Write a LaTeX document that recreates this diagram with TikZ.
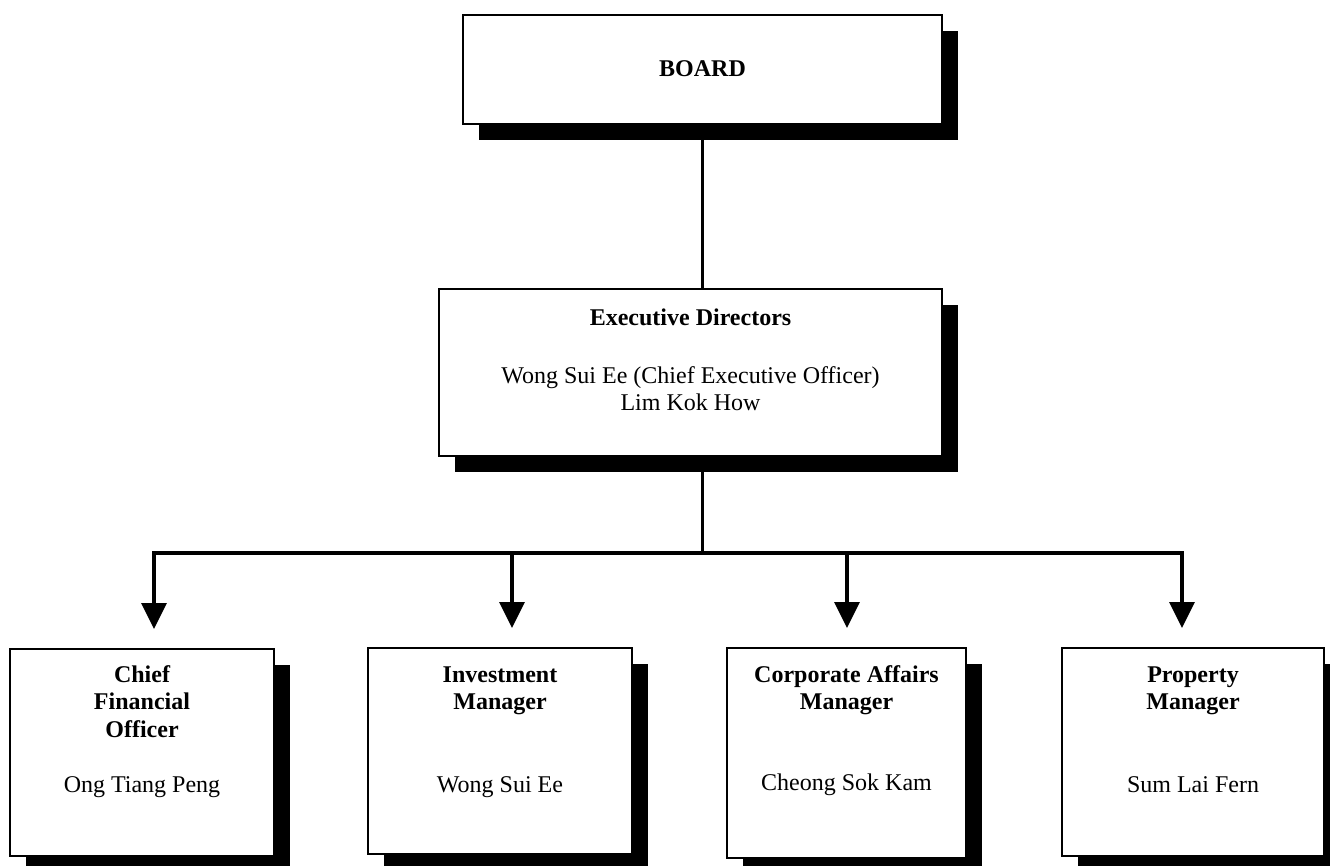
\documentclass[tikz,border=0pt]{standalone}
\usepackage{fontspec}
\setmainfont{Liberation Serif}
\usetikzlibrary{shadows,arrows.meta}
\tikzset{
  orgbox/.style={draw=black, line width=2pt, fill=white, inner sep=0pt,
    general shadow={fill=black, shadow xshift=16pt, shadow yshift=-16pt}},
  lbl/.style={anchor=base, inner sep=0pt, font=\fontsize{24pt}{28pt}\selectfont},
  blbl/.style={lbl, font=\fontsize{24pt}{28pt}\selectfont\bfseries},
  conn/.style={line width=3.3pt, line cap=rect},
  arr/.style={line width=3.3pt, -{Triangle[width=25pt,length=26pt]}, shorten >=19pt}
}
\begin{document}
\begin{tikzpicture}[x=1pt,y=-1pt]
\useasboundingbox (0,0) rectangle (1330,866);
\clip (0,0) rectangle (1330,866);
\fill[white] (0,0) rectangle (1330,866);

% connector points
\coordinate (jn) at (702.5,553);
\coordinate (b1) at (154,553);
\coordinate (b2) at (512,553);
\coordinate (b3) at (847,553);
\coordinate (b4) at (1182,553);

% boxes
\node[orgbox, minimum width=479pt, minimum height=109pt] (board) at (702.5,69.5) {};
\node[orgbox, minimum width=503pt, minimum height=167pt] (exec) at (690.5,372.5) {};
\node[orgbox, minimum width=264pt, minimum height=207pt] (cfo) at (142,752.5) {};
\node[orgbox, minimum width=264pt, minimum height=206pt] (inv) at (500,751) {};
\node[orgbox, minimum width=239pt, minimum height=210pt] (corp) at (846.5,753) {};
\node[orgbox, minimum width=262pt, minimum height=208pt] (prop) at (1193,752) {};

\draw[conn] (board.south) -- (board.south |- exec.north);
\draw[conn] (jn |- exec.south) -- (jn);
\draw[conn] (b1) -- (b4);
\draw[arr] (b1) -- (b1 |- cfo.north);
\draw[arr] (b2) -- (b2 |- inv.north);
\draw[arr] (b3) -- (b3 |- corp.north);
\draw[arr] (b4) -- (b4 |- prop.north);

% texts
\node[blbl] (tboard) at (702.5,77) {BOARD};
\node[blbl] (texec) at (690.5,326) {Executive Directors};
\node[lbl] (texec1) at (690.5,383) {Wong Sui Ee (Chief Executive Officer)};
\node[lbl] (texec2) at (690.5,410) {Lim Kok How};

\node[blbl] (tcfo1) at (142,682) {Chief};
\node[blbl] (tcfo2) at (142,709) {Financial};
\node[blbl] (tcfo3) at (142,737) {Officer};
\node[lbl] (tcfo4) at (142,792) {Ong Tiang Peng};

\node[blbl] (tinv1) at (500,682) {Investment};
\node[blbl] (tinv2) at (500,709) {Manager};
\node[lbl] (tinv3) at (500,792) {Wong Sui Ee};

\node[blbl] (tcorp1) at (846.5,682) {Corporate Affairs};
\node[blbl] (tcorp2) at (846.5,709) {Manager};
\node[lbl] (tcorp3) at (846.5,790) {Cheong Sok Kam};

\node[blbl] (tprop1) at (1193,682) {Property};
\node[blbl] (tprop2) at (1193,709) {Manager};
\node[lbl] (tprop3) at (1193,792) {Sum Lai Fern};
\end{tikzpicture}
\end{document}
